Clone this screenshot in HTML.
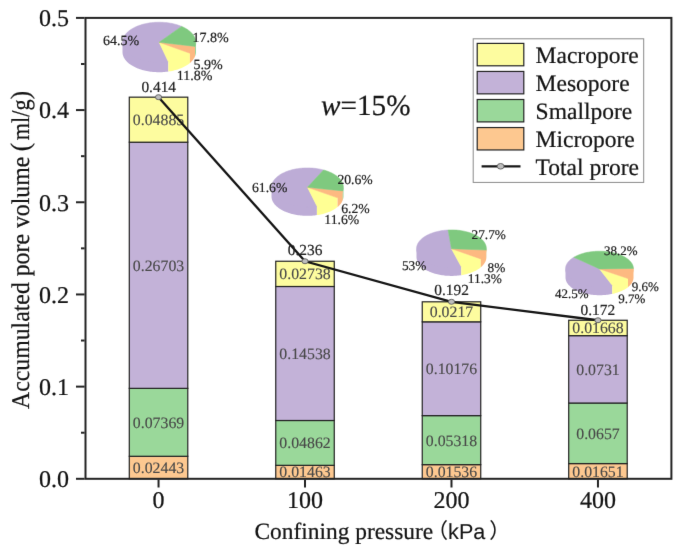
<!DOCTYPE html>
<html lang="en"><head><meta charset="utf-8"><title>Accumulated pore volume chart</title>
<style>html,body{margin:0;padding:0;background:#fff}svg{display:block}</style></head>
<body>
<svg width="685" height="548" viewBox="0 0 685 548" text-rendering="geometricPrecision" font-family='"Liberation Serif", serif'>
<rect width="685" height="548" fill="#fff"/>
<defs><filter id="soft" x="0" y="0" width="685" height="548" filterUnits="userSpaceOnUse" color-interpolation-filters="sRGB"><feConvolveMatrix order="3" kernelMatrix="0 1 0 1 12 1 0 1 0" edgeMode="duplicate" preserveAlpha="false"/></filter></defs>
<g filter="url(#soft)">
<rect width="685" height="548" fill="#fff"/>
<rect x="129.29" y="456.28" width="58.50" height="22.52" fill="#fdc890" stroke="#242424" stroke-width="1.2"/>
<rect x="129.29" y="388.35" width="58.50" height="67.93" fill="#9ad89a" stroke="#242424" stroke-width="1.2"/>
<rect x="129.29" y="142.20" width="58.50" height="246.15" fill="#c3b2d8" stroke="#242424" stroke-width="1.2"/>
<rect x="129.29" y="97.17" width="58.50" height="45.03" fill="#fdfc9f" stroke="#242424" stroke-width="1.2"/>
<text transform="translate(158.54 472.94)" font-size="15.8" fill="#484848" stroke="#484848" stroke-width="0.12" text-anchor="middle">0.02443</text>
<text transform="translate(158.54 427.72)" font-size="15.8" fill="#484848" stroke="#484848" stroke-width="0.12" text-anchor="middle">0.07369</text>
<text transform="translate(158.54 270.68)" font-size="15.8" fill="#484848" stroke="#484848" stroke-width="0.12" text-anchor="middle">0.26703</text>
<text transform="translate(158.54 125.09)" font-size="15.8" fill="#484848" stroke="#484848" stroke-width="0.12" text-anchor="middle">0.04885</text>
<rect x="275.76" y="465.31" width="58.50" height="13.49" fill="#fdc890" stroke="#242424" stroke-width="1.2"/>
<rect x="275.76" y="420.50" width="58.50" height="44.82" fill="#9ad89a" stroke="#242424" stroke-width="1.2"/>
<rect x="275.76" y="286.48" width="58.50" height="134.01" fill="#c3b2d8" stroke="#242424" stroke-width="1.2"/>
<rect x="275.76" y="261.25" width="58.50" height="25.24" fill="#fdfc9f" stroke="#242424" stroke-width="1.2"/>
<text transform="translate(305.01 477.46)" font-size="15.8" fill="#484848" stroke="#484848" stroke-width="0.12" text-anchor="middle">0.01463</text>
<text transform="translate(305.01 448.31)" font-size="15.8" fill="#484848" stroke="#484848" stroke-width="0.12" text-anchor="middle">0.04862</text>
<text transform="translate(305.01 358.89)" font-size="15.8" fill="#484848" stroke="#484848" stroke-width="0.12" text-anchor="middle">0.14538</text>
<text transform="translate(305.01 279.27)" font-size="15.8" fill="#484848" stroke="#484848" stroke-width="0.12" text-anchor="middle">0.02738</text>
<rect x="422.24" y="464.64" width="58.50" height="14.16" fill="#fdc890" stroke="#242424" stroke-width="1.2"/>
<rect x="422.24" y="415.62" width="58.50" height="49.02" fill="#9ad89a" stroke="#242424" stroke-width="1.2"/>
<rect x="422.24" y="321.82" width="58.50" height="93.80" fill="#c3b2d8" stroke="#242424" stroke-width="1.2"/>
<rect x="422.24" y="301.81" width="58.50" height="20.00" fill="#fdfc9f" stroke="#242424" stroke-width="1.2"/>
<text transform="translate(451.49 477.12)" font-size="15.8" fill="#484848" stroke="#484848" stroke-width="0.12" text-anchor="middle">0.01536</text>
<text transform="translate(451.49 445.53)" font-size="15.8" fill="#484848" stroke="#484848" stroke-width="0.12" text-anchor="middle">0.05318</text>
<text transform="translate(451.49 374.12)" font-size="15.8" fill="#484848" stroke="#484848" stroke-width="0.12" text-anchor="middle">0.10176</text>
<text transform="translate(451.49 317.22)" font-size="15.8" fill="#484848" stroke="#484848" stroke-width="0.12" text-anchor="middle">0.0217</text>
<rect x="568.71" y="463.58" width="58.50" height="15.22" fill="#fdc890" stroke="#242424" stroke-width="1.2"/>
<rect x="568.71" y="403.02" width="58.50" height="60.56" fill="#9ad89a" stroke="#242424" stroke-width="1.2"/>
<rect x="568.71" y="335.64" width="58.50" height="67.38" fill="#c3b2d8" stroke="#242424" stroke-width="1.2"/>
<rect x="568.71" y="320.26" width="58.50" height="15.38" fill="#fdfc9f" stroke="#242424" stroke-width="1.2"/>
<text transform="translate(597.96 476.59)" font-size="15.8" fill="#484848" stroke="#484848" stroke-width="0.12" text-anchor="middle">0.01651</text>
<text transform="translate(597.96 438.70)" font-size="15.8" fill="#484848" stroke="#484848" stroke-width="0.12" text-anchor="middle">0.0657</text>
<text transform="translate(597.96 374.73)" font-size="15.8" fill="#484848" stroke="#484848" stroke-width="0.12" text-anchor="middle">0.0731</text>
<text transform="translate(597.96 333.35)" font-size="15.8" fill="#484848" stroke="#484848" stroke-width="0.12" text-anchor="middle">0.01668</text>
<rect x="85.5" y="17.9" width="585.90" height="460.90" fill="none" stroke="#242424" stroke-width="2"/>
<line x1="76" y1="478.80" x2="84.6" y2="478.80" stroke="#242424" stroke-width="2"/>
<text transform="translate(69.00 487.10)" font-size="24" fill="#151515" stroke="#151515" stroke-width="0.22" text-anchor="end">0.0</text>
<line x1="81" y1="432.71" x2="84.6" y2="432.71" stroke="#242424" stroke-width="2"/>
<line x1="76" y1="386.62" x2="84.6" y2="386.62" stroke="#242424" stroke-width="2"/>
<text transform="translate(69.00 394.92)" font-size="24" fill="#151515" stroke="#151515" stroke-width="0.22" text-anchor="end">0.1</text>
<line x1="81" y1="340.53" x2="84.6" y2="340.53" stroke="#242424" stroke-width="2"/>
<line x1="76" y1="294.44" x2="84.6" y2="294.44" stroke="#242424" stroke-width="2"/>
<text transform="translate(69.00 302.74)" font-size="24" fill="#151515" stroke="#151515" stroke-width="0.22" text-anchor="end">0.2</text>
<line x1="81" y1="248.35" x2="84.6" y2="248.35" stroke="#242424" stroke-width="2"/>
<line x1="76" y1="202.26" x2="84.6" y2="202.26" stroke="#242424" stroke-width="2"/>
<text transform="translate(69.00 210.56)" font-size="24" fill="#151515" stroke="#151515" stroke-width="0.22" text-anchor="end">0.3</text>
<line x1="81" y1="156.17" x2="84.6" y2="156.17" stroke="#242424" stroke-width="2"/>
<line x1="76" y1="110.08" x2="84.6" y2="110.08" stroke="#242424" stroke-width="2"/>
<text transform="translate(69.00 118.38)" font-size="24" fill="#151515" stroke="#151515" stroke-width="0.22" text-anchor="end">0.4</text>
<line x1="81" y1="63.99" x2="84.6" y2="63.99" stroke="#242424" stroke-width="2"/>
<line x1="76" y1="17.90" x2="84.6" y2="17.90" stroke="#242424" stroke-width="2"/>
<text transform="translate(69.00 26.20)" font-size="24" fill="#151515" stroke="#151515" stroke-width="0.22" text-anchor="end">0.5</text>
<line x1="158.54" y1="479.7" x2="158.54" y2="487.5" stroke="#242424" stroke-width="2"/>
<text transform="translate(158.54 508.00)" font-size="24" fill="#151515" stroke="#151515" stroke-width="0.22" text-anchor="middle">0</text>
<line x1="305.01" y1="479.7" x2="305.01" y2="487.5" stroke="#242424" stroke-width="2"/>
<text transform="translate(305.01 508.00)" font-size="24" fill="#151515" stroke="#151515" stroke-width="0.22" text-anchor="middle">100</text>
<line x1="451.49" y1="479.7" x2="451.49" y2="487.5" stroke="#242424" stroke-width="2"/>
<text transform="translate(451.49 508.00)" font-size="24" fill="#151515" stroke="#151515" stroke-width="0.22" text-anchor="middle">200</text>
<line x1="597.96" y1="479.7" x2="597.96" y2="487.5" stroke="#242424" stroke-width="2"/>
<text transform="translate(597.96 508.00)" font-size="24" fill="#151515" stroke="#151515" stroke-width="0.22" text-anchor="middle">400</text>
<text transform="translate(254.5 539.1) scale(1 1.0)" font-size="23.4" fill="#151515" stroke="#151515" stroke-width="0.22"><tspan x="0" y="0">Confining pressure</tspan><tspan x="172.4" y="-1" font-size="21" stroke-width="0.1" font-family='"Liberation Sans", "Noto Sans CJK SC", sans-serif'>（</tspan><tspan x="193.6" y="-0.2" font-size="21.6" stroke-width="0.1" font-family='"Liberation Sans", "Noto Sans CJK SC", sans-serif'>kPa</tspan><tspan x="234.8" y="-1" font-size="21" stroke-width="0.1" font-family='"Liberation Sans", "Noto Sans CJK SC", sans-serif'>）</tspan></text>
<text transform="translate(29.30 408.90) rotate(-90) scale(1 1.07)" font-size="23.78" fill="#151515" stroke="#151515" stroke-width="0.22"><tspan x="0">Accumulated pore volume</tspan> <tspan x="257.6" font-size="25">(</tspan><tspan x="268.7" textLength="40.7" lengthAdjust="spacingAndGlyphs">ml/g</tspan><tspan x="309.6" font-size="25">)</tspan></text>
<text transform="translate(321.10 114.80)" font-size="29.2" fill="#151515" stroke="#151515" stroke-width="0.22"><tspan font-style="italic">w</tspan>=15%</text>
<polyline fill="none" stroke="#161616" stroke-width="2.3" points="158.54,97.17 305.01,261.26 451.49,301.81 597.96,320.25"/>
<ellipse cx="158.54" cy="97.17" rx="3.1" ry="2.5" fill="#bdbdbd" stroke="#5a5a5a" stroke-width="0.9"/>
<ellipse cx="305.01" cy="261.26" rx="3.1" ry="2.5" fill="#bdbdbd" stroke="#5a5a5a" stroke-width="0.9"/>
<ellipse cx="451.49" cy="301.81" rx="3.1" ry="2.5" fill="#bdbdbd" stroke="#5a5a5a" stroke-width="0.9"/>
<ellipse cx="597.96" cy="320.25" rx="3.1" ry="2.5" fill="#bdbdbd" stroke="#5a5a5a" stroke-width="0.9"/>
<text transform="translate(141.40 91.50)" font-size="15.4" fill="#222" stroke="#222" stroke-width="0.2">0.414</text>
<text transform="translate(287.70 255.10)" font-size="15.4" fill="#222" stroke="#222" stroke-width="0.2">0.236</text>
<text transform="translate(434.30 295.40)" font-size="15.4" fill="#222" stroke="#222" stroke-width="0.2">0.192</text>
<text transform="translate(580.50 314.80)" font-size="15.4" fill="#222" stroke="#222" stroke-width="0.2">0.172</text>
<g>
<path d="M122.50,40.80 L122.52,41.50 L122.59,42.21 L122.70,42.91 L122.86,43.61 L123.06,44.31 L123.31,45.00 L123.60,45.69 L123.93,46.37 L124.31,47.04 L124.73,47.71 L125.20,48.37 L125.70,49.01 L126.25,49.65 L126.83,50.28 L127.46,50.90 L128.12,51.50 L128.83,52.09 L129.57,52.67 L130.34,53.23 L131.16,53.77 L132.00,54.30 L132.88,54.82 L133.80,55.31 L134.74,55.79 L135.71,56.25 L136.72,56.70 L137.75,57.12 L138.80,57.52 L139.89,57.90 L140.99,58.26 L142.12,58.60 L143.27,58.91 L144.44,59.21 L145.62,59.48 L146.83,59.73 L148.04,59.95 L149.28,60.16 L150.52,60.33 L151.77,60.49 L153.04,60.62 L154.31,60.72 L155.59,60.80 L156.87,60.86 L158.15,60.89 L159.44,60.90 L160.72,60.88 L162.01,60.84 L163.29,60.77 L164.56,60.68 L165.83,60.56 L167.09,60.42 L168.34,60.26 L168.34,71.56 L167.09,71.72 L165.83,71.86 L164.56,71.98 L163.29,72.07 L162.01,72.14 L160.72,72.18 L159.44,72.20 L158.15,72.19 L156.87,72.16 L155.59,72.10 L154.31,72.02 L153.04,71.92 L151.77,71.79 L150.52,71.63 L149.28,71.46 L148.04,71.25 L146.83,71.03 L145.62,70.78 L144.44,70.51 L143.27,70.21 L142.12,69.90 L140.99,69.56 L139.89,69.20 L138.80,68.82 L137.75,68.42 L136.72,68.00 L135.71,67.55 L134.74,67.09 L133.80,66.61 L132.88,66.12 L132.00,65.60 L131.16,65.07 L130.34,64.53 L129.57,63.97 L128.83,63.39 L128.12,62.80 L127.46,62.20 L126.83,61.58 L126.25,60.95 L125.70,60.31 L125.20,59.67 L124.73,59.01 L124.31,58.34 L123.93,57.67 L123.60,56.99 L123.31,56.30 L123.06,55.61 L122.86,54.91 L122.70,54.21 L122.59,53.51 L122.52,52.80 L122.50,52.10Z" fill="#bdacd6"/>
<path d="M168.34,60.26 L169.59,60.07 L170.82,59.85 L172.04,59.62 L173.24,59.35 L174.43,59.07 L175.59,58.76 L176.74,58.43 L177.86,58.08 L178.96,57.71 L180.04,57.32 L181.09,56.90 L182.11,56.47 L183.11,56.01 L184.07,55.54 L185.00,55.05 L185.90,54.54 L186.77,54.01 L187.60,53.47 L188.40,52.91 L189.16,52.34 L189.89,51.75 L189.89,63.05 L189.16,63.64 L188.40,64.21 L187.60,64.77 L186.77,65.31 L185.90,65.84 L185.00,66.35 L184.07,66.84 L183.11,67.31 L182.11,67.77 L181.09,68.20 L180.04,68.62 L178.96,69.01 L177.86,69.38 L176.74,69.73 L175.59,70.06 L174.43,70.37 L173.24,70.65 L172.04,70.92 L170.82,71.15 L169.59,71.37 L168.34,71.56Z" fill="#ffff94"/>
<path d="M189.89,51.75 L190.61,51.11 L191.28,50.47 L191.91,49.81 L192.50,49.14 L193.04,48.45 L193.53,47.76 L193.98,47.06 L194.38,46.34 L194.73,45.62 L195.03,44.90 L195.03,56.20 L194.73,56.92 L194.38,57.64 L193.98,58.36 L193.53,59.06 L193.04,59.75 L192.50,60.44 L191.91,61.11 L191.28,61.77 L190.61,62.41 L189.89,63.05Z" fill="#fdb981"/>
<path d="M195.03,44.90 L195.31,44.09 L195.52,43.27 L195.68,42.45 L195.77,41.62 L195.80,40.80 L195.80,52.10 L195.77,52.92 L195.68,53.75 L195.52,54.57 L195.31,55.39 L195.03,56.20Z" fill="#7fc97f"/>
<path d="M159.15,42.30 L181.55,26.39 L180.53,25.97 L179.47,25.57 L178.39,25.19 L177.29,24.84 L176.17,24.50 L175.03,24.18 L173.86,23.89 L172.68,23.62 L171.48,23.37 L170.27,23.15 L169.04,22.95 L167.80,22.77 L166.56,22.61 L165.30,22.48 L164.03,22.38 L162.76,22.30 L161.48,22.24 L160.20,22.21 L158.92,22.20 L157.64,22.22 L156.37,22.26 L155.09,22.32 L153.82,22.41 L152.56,22.53 L151.30,22.67 L150.06,22.83 L148.82,23.01 L147.60,23.22 L146.39,23.46 L145.20,23.71 L144.03,23.99 L142.87,24.29 L141.73,24.62 L140.62,24.96 L139.52,25.33 L138.45,25.71 L137.41,26.12 L136.39,26.54 L135.40,26.99 L134.44,27.45 L133.51,27.94 L132.61,28.44 L131.75,28.95 L130.91,29.49 L130.11,30.04 L129.35,30.60 L128.62,31.18 L127.93,31.77 L127.28,32.37 L126.67,32.99 L126.10,33.62 L125.56,34.26 L125.07,34.90 L124.62,35.56 L124.21,36.23 L123.85,36.90 L123.52,37.58 L123.25,38.27 L123.01,38.96 L122.82,39.65 L122.67,40.35 L122.57,41.05 L122.51,41.75 L122.50,42.45 L122.53,43.15 L122.61,43.85 L122.73,44.55 L122.90,45.25 L123.11,45.94 L123.36,46.63 L123.66,47.31 L124.00,47.99 L124.38,48.66 L124.81,49.32 L125.28,49.98 L125.79,50.62 L126.34,51.25 L126.93,51.88 L127.56,52.49 L128.23,53.09 L128.93,53.67 L129.67,54.25 L130.45,54.80 L131.27,55.34 L132.11,55.87 L133.00,56.38 L133.91,56.87 L134.85,57.35 L135.82,57.80 L136.83,58.24 L137.86,58.66 L138.91,59.06 L139.99,59.43 L141.09,59.79 L142.22,60.13 L143.36,60.44 L144.53,60.73 L145.71,61.00 L146.91,61.25 L148.12,61.47 L149.35,61.67 L150.59,61.84 L151.84,62.00 L153.10,62.12 L154.37,62.23 L155.64,62.31 L156.92,62.36 L158.19,62.39 L159.47,62.40 L160.75,62.38 L162.03,62.34 L163.31,62.27 L164.58,62.18 L165.84,62.06 L167.09,61.92 L168.34,61.76Z" fill="#bdacd6" stroke="#bdacd6" stroke-width="0.5" stroke-linejoin="round"/>
<path d="M159.15,42.30 L168.34,61.76 L169.59,61.57 L170.82,61.35 L172.04,61.12 L173.24,60.85 L174.43,60.57 L175.59,60.26 L176.74,59.93 L177.86,59.58 L178.96,59.21 L180.04,58.82 L181.09,58.40 L182.11,57.97 L183.11,57.51 L184.07,57.04 L185.00,56.55 L185.90,56.04 L186.77,55.51 L187.60,54.97 L188.40,54.41 L189.16,53.84 L189.89,53.25Z" fill="#ffff94" stroke="#ffff94" stroke-width="0.5" stroke-linejoin="round"/>
<path d="M159.15,42.30 L189.89,53.25 L190.61,52.61 L191.28,51.97 L191.91,51.31 L192.50,50.64 L193.04,49.95 L193.53,49.26 L193.98,48.56 L194.38,47.84 L194.73,47.12 L195.03,46.40Z" fill="#fdb981" stroke="#fdb981" stroke-width="0.5" stroke-linejoin="round"/>
<path d="M159.15,42.30 L195.03,46.40 L195.27,45.71 L195.46,45.01 L195.62,44.31 L195.72,43.61 L195.78,42.91 L195.80,42.21 L195.77,41.51 L195.70,40.81 L195.58,40.11 L195.42,39.41 L195.21,38.72 L194.96,38.03 L194.67,37.34 L194.33,36.67 L193.95,36.00 L193.53,35.33 L193.06,34.68 L192.56,34.03 L192.01,33.40 L191.42,32.77 L190.80,32.16 L190.13,31.56 L189.43,30.97 L188.69,30.40 L187.91,29.84 L187.10,29.30 L186.25,28.77 L185.38,28.26 L184.47,27.77 L183.52,27.29 L182.55,26.83 L181.55,26.39Z" fill="#7fc97f" stroke="#7fc97f" stroke-width="0.5" stroke-linejoin="round"/>
</g>
<text transform="translate(103.10 45.00)" font-size="14" fill="#202020" stroke="#202020" stroke-width="0.2">64.5%</text>
<text transform="translate(192.40 42.20)" font-size="14" fill="#202020" stroke="#202020" stroke-width="0.2">17.8%</text>
<text transform="translate(193.50 69.10)" font-size="14" fill="#202020" stroke="#202020" stroke-width="0.2">5.9%</text>
<text transform="translate(176.70 79.60)" font-size="14" fill="#202020" stroke="#202020" stroke-width="0.2">11.8%</text>
<g>
<path d="M271.50,185.80 L271.52,186.49 L271.59,187.17 L271.70,187.85 L271.86,188.53 L272.06,189.21 L272.30,189.88 L272.59,190.55 L272.93,191.21 L273.30,191.86 L273.72,192.51 L274.18,193.15 L274.68,193.78 L275.22,194.40 L275.81,195.01 L276.43,195.60 L277.09,196.19 L277.79,196.76 L278.52,197.32 L279.30,197.86 L280.10,198.39 L280.95,198.91 L281.82,199.40 L282.73,199.88 L283.66,200.35 L284.63,200.79 L285.62,201.22 L286.65,201.62 L287.70,202.01 L288.77,202.38 L289.87,202.72 L290.98,203.05 L292.12,203.35 L293.28,203.63 L294.46,203.89 L295.65,204.12 L296.85,204.34 L298.07,204.53 L299.31,204.70 L300.55,204.84 L301.80,204.96 L303.05,205.05 L304.32,205.13 L305.58,205.17 L306.85,205.20 L308.12,205.20 L309.39,205.17 L310.66,205.12 L311.92,205.05 L313.18,204.95 L314.43,204.83 L315.67,204.69 L316.90,204.52 L316.90,215.12 L315.67,215.29 L314.43,215.43 L313.18,215.55 L311.92,215.65 L310.66,215.72 L309.39,215.77 L308.12,215.80 L306.85,215.80 L305.58,215.77 L304.32,215.73 L303.05,215.65 L301.80,215.56 L300.55,215.44 L299.31,215.30 L298.07,215.13 L296.85,214.94 L295.65,214.72 L294.46,214.49 L293.28,214.23 L292.12,213.95 L290.98,213.65 L289.87,213.32 L288.77,212.98 L287.70,212.61 L286.65,212.22 L285.62,211.82 L284.63,211.39 L283.66,210.95 L282.73,210.48 L281.82,210.00 L280.95,209.51 L280.10,208.99 L279.30,208.46 L278.52,207.92 L277.79,207.36 L277.09,206.79 L276.43,206.20 L275.81,205.61 L275.22,205.00 L274.68,204.38 L274.18,203.75 L273.72,203.11 L273.30,202.46 L272.93,201.81 L272.59,201.15 L272.30,200.48 L272.06,199.81 L271.86,199.13 L271.70,198.45 L271.59,197.77 L271.52,197.09 L271.50,196.40Z" fill="#bdacd6"/>
<path d="M316.90,204.52 L318.16,204.32 L319.40,204.10 L320.63,203.85 L321.84,203.58 L323.03,203.28 L324.20,202.97 L325.35,202.63 L326.47,202.26 L327.57,201.88 L328.64,201.47 L329.69,201.04 L330.70,200.60 L331.68,200.13 L332.64,199.64 L333.55,199.14 L334.44,198.62 L335.28,198.08 L336.09,197.52 L336.87,196.95 L337.60,196.37 L337.60,206.97 L336.87,207.55 L336.09,208.12 L335.28,208.68 L334.44,209.22 L333.55,209.74 L332.64,210.24 L331.68,210.73 L330.70,211.20 L329.69,211.64 L328.64,212.07 L327.57,212.48 L326.47,212.86 L325.35,213.23 L324.20,213.57 L323.03,213.88 L321.84,214.18 L320.63,214.45 L319.40,214.70 L318.16,214.92 L316.90,215.12Z" fill="#ffff94"/>
<path d="M337.60,196.37 L338.27,195.78 L338.91,195.19 L339.51,194.58 L340.06,193.96 L340.58,193.33 L341.05,192.70 L341.48,192.05 L341.87,191.40 L342.22,190.74 L342.52,190.07 L342.78,189.40 L342.78,200.00 L342.52,200.67 L342.22,201.34 L341.87,202.00 L341.48,202.65 L341.05,203.30 L340.58,203.93 L340.06,204.56 L339.51,205.18 L338.91,205.79 L338.27,206.38 L337.60,206.97Z" fill="#fdb981"/>
<path d="M342.78,189.40 L343.00,188.68 L343.18,187.97 L343.30,187.25 L343.38,186.52 L343.40,185.80 L343.40,196.40 L343.38,197.12 L343.30,197.85 L343.18,198.57 L343.00,199.28 L342.78,200.00Z" fill="#7fc97f"/>
<path d="M307.45,187.30 L323.50,169.94 L322.36,169.65 L321.20,169.38 L320.02,169.13 L318.83,168.90 L317.62,168.69 L316.40,168.51 L315.17,168.35 L313.93,168.22 L312.69,168.11 L311.43,168.02 L310.17,167.96 L308.91,167.92 L307.65,167.90 L306.38,167.91 L305.12,167.94 L303.86,168.00 L302.60,168.08 L301.35,168.18 L300.11,168.31 L298.87,168.46 L297.65,168.63 L296.44,168.83 L295.24,169.05 L294.06,169.30 L292.90,169.56 L291.75,169.85 L290.62,170.16 L289.51,170.49 L288.43,170.84 L287.37,171.21 L286.33,171.60 L285.32,172.01 L284.34,172.44 L283.38,172.89 L282.46,173.35 L281.57,173.84 L280.70,174.34 L279.88,174.85 L279.08,175.38 L278.32,175.93 L277.60,176.49 L276.91,177.06 L276.26,177.65 L275.65,178.25 L275.08,178.86 L274.55,179.48 L274.06,180.11 L273.62,180.74 L273.21,181.39 L272.84,182.04 L272.52,182.70 L272.25,183.37 L272.01,184.04 L271.82,184.72 L271.67,185.39 L271.57,186.07 L271.51,186.76 L271.50,187.44 L271.53,188.12 L271.61,188.80 L271.73,189.48 L271.89,190.16 L272.10,190.83 L272.35,191.50 L272.65,192.16 L272.99,192.82 L273.37,193.47 L273.79,194.12 L274.26,194.75 L274.76,195.38 L275.31,195.99 L275.90,196.60 L276.52,197.19 L277.19,197.77 L277.89,198.34 L278.62,198.89 L279.40,199.43 L280.21,199.96 L281.05,200.47 L281.92,200.96 L282.83,201.44 L283.77,201.90 L284.73,202.34 L285.73,202.76 L286.75,203.16 L287.79,203.54 L288.87,203.91 L289.96,204.25 L291.08,204.57 L292.21,204.87 L293.37,205.15 L294.54,205.41 L295.73,205.64 L296.93,205.85 L298.15,206.04 L299.37,206.20 L300.61,206.35 L301.86,206.46 L303.11,206.56 L304.37,206.63 L305.63,206.68 L306.89,206.70 L308.16,206.70 L309.42,206.67 L310.68,206.62 L311.94,206.55 L313.19,206.45 L314.44,206.33 L315.67,206.19 L316.90,206.02Z" fill="#bdacd6" stroke="#bdacd6" stroke-width="0.5" stroke-linejoin="round"/>
<path d="M307.45,187.30 L316.90,206.02 L318.16,205.82 L319.40,205.60 L320.63,205.35 L321.84,205.08 L323.03,204.78 L324.20,204.47 L325.35,204.13 L326.47,203.76 L327.57,203.38 L328.64,202.97 L329.69,202.54 L330.70,202.10 L331.68,201.63 L332.64,201.14 L333.55,200.64 L334.44,200.12 L335.28,199.58 L336.09,199.02 L336.87,198.45 L337.60,197.87Z" fill="#ffff94" stroke="#ffff94" stroke-width="0.5" stroke-linejoin="round"/>
<path d="M307.45,187.30 L337.60,197.87 L338.27,197.28 L338.91,196.69 L339.51,196.08 L340.06,195.46 L340.58,194.83 L341.05,194.20 L341.48,193.55 L341.87,192.90 L342.22,192.24 L342.52,191.57 L342.78,190.90Z" fill="#fdb981" stroke="#fdb981" stroke-width="0.5" stroke-linejoin="round"/>
<path d="M307.45,187.30 L342.78,190.90 L342.99,190.23 L343.16,189.55 L343.28,188.88 L343.36,188.20 L343.40,187.52 L343.39,186.84 L343.34,186.17 L343.24,185.49 L343.10,184.82 L342.92,184.14 L342.69,183.48 L342.43,182.81 L342.11,182.16 L341.76,181.50 L341.36,180.86 L340.92,180.22 L340.44,179.60 L339.93,178.98 L339.37,178.37 L338.77,177.77 L338.13,177.19 L337.46,176.62 L336.75,176.06 L336.00,175.51 L335.22,174.98 L334.40,174.46 L333.55,173.96 L332.67,173.48 L331.76,173.01 L330.82,172.56 L329.85,172.13 L328.85,171.71 L327.83,171.32 L326.78,170.94 L325.71,170.59 L324.62,170.25 L323.50,169.94Z" fill="#7fc97f" stroke="#7fc97f" stroke-width="0.5" stroke-linejoin="round"/>
</g>
<text transform="translate(252.00 192.00)" font-size="13.7" fill="#202020" stroke="#202020" stroke-width="0.2">61.6%</text>
<text transform="translate(337.40 183.90)" font-size="13.7" fill="#202020" stroke="#202020" stroke-width="0.2">20.6%</text>
<text transform="translate(341.20 212.80)" font-size="13.7" fill="#202020" stroke="#202020" stroke-width="0.2">6.2%</text>
<text transform="translate(324.30 223.80)" font-size="13.7" fill="#202020" stroke="#202020" stroke-width="0.2">11.6%</text>
<g>
<path d="M416.50,247.20 L416.52,247.86 L416.59,248.52 L416.69,249.17 L416.84,249.82 L417.03,250.47 L417.27,251.12 L417.54,251.76 L417.86,252.40 L418.22,253.03 L418.62,253.65 L419.06,254.26 L419.54,254.87 L420.06,255.46 L420.62,256.05 L421.21,256.63 L421.84,257.19 L422.51,257.74 L423.21,258.28 L423.95,258.80 L424.72,259.31 L425.53,259.81 L426.37,260.29 L427.23,260.76 L428.13,261.20 L429.06,261.63 L430.01,262.05 L430.99,262.44 L431.99,262.82 L433.02,263.17 L434.07,263.51 L435.14,263.83 L436.23,264.13 L437.35,264.40 L438.47,264.66 L439.62,264.89 L440.78,265.10 L441.95,265.29 L443.13,265.46 L444.32,265.61 L445.53,265.73 L446.74,265.83 L447.95,265.91 L449.17,265.96 L450.39,265.99 L451.62,266.00 L452.84,265.99 L454.06,265.95 L455.28,265.89 L456.49,265.80 L457.70,265.70 L458.90,265.57 L460.09,265.42 L461.27,265.24 L461.27,275.14 L460.09,275.32 L458.90,275.47 L457.70,275.60 L456.49,275.70 L455.28,275.79 L454.06,275.85 L452.84,275.89 L451.62,275.90 L450.39,275.89 L449.17,275.86 L447.95,275.81 L446.74,275.73 L445.53,275.63 L444.32,275.51 L443.13,275.36 L441.95,275.19 L440.78,275.00 L439.62,274.79 L438.47,274.56 L437.35,274.30 L436.23,274.03 L435.14,273.73 L434.07,273.41 L433.02,273.07 L431.99,272.72 L430.99,272.34 L430.01,271.95 L429.06,271.53 L428.13,271.10 L427.23,270.66 L426.37,270.19 L425.53,269.71 L424.72,269.21 L423.95,268.70 L423.21,268.18 L422.51,267.64 L421.84,267.09 L421.21,266.53 L420.62,265.95 L420.06,265.36 L419.54,264.77 L419.06,264.16 L418.62,263.55 L418.22,262.93 L417.86,262.30 L417.54,261.66 L417.27,261.02 L417.03,260.37 L416.84,259.72 L416.69,259.07 L416.59,258.42 L416.52,257.76 L416.50,257.10Z" fill="#bdacd6"/>
<path d="M461.27,265.24 L462.46,265.04 L463.63,264.82 L464.78,264.58 L465.92,264.31 L467.04,264.03 L468.14,263.72 L469.22,263.39 L470.28,263.04 L471.31,262.67 L472.32,262.28 L473.30,261.87 L474.25,261.45 L475.18,261.00 L476.08,260.54 L476.94,260.06 L477.77,259.57 L478.57,259.06 L479.34,258.53 L480.07,257.99 L480.76,257.44 L480.76,267.34 L480.07,267.89 L479.34,268.43 L478.57,268.96 L477.77,269.47 L476.94,269.96 L476.08,270.44 L475.18,270.90 L474.25,271.35 L473.30,271.77 L472.32,272.18 L471.31,272.57 L470.28,272.94 L469.22,273.29 L468.14,273.62 L467.04,273.93 L465.92,274.21 L464.78,274.48 L463.63,274.72 L462.46,274.94 L461.27,275.14Z" fill="#ffff94"/>
<path d="M480.76,257.44 L481.43,256.87 L482.05,256.28 L482.64,255.68 L483.18,255.08 L483.69,254.46 L484.15,253.83 L484.57,253.20 L484.95,252.55 L485.29,251.90 L485.58,251.25 L485.83,250.58 L486.03,249.92 L486.19,249.25 L486.31,248.58 L486.31,258.48 L486.19,259.15 L486.03,259.82 L485.83,260.48 L485.58,261.15 L485.29,261.80 L484.95,262.45 L484.57,263.10 L484.15,263.73 L483.69,264.36 L483.18,264.98 L482.64,265.58 L482.05,266.18 L481.43,266.77 L480.76,267.34Z" fill="#fdb981"/>
<path d="M486.31,248.58 L486.38,247.89 L486.40,247.20 L486.40,257.10 L486.38,257.79 L486.31,258.48Z" fill="#7fc97f"/>
<path d="M451.45,248.70 L448.09,229.99 L446.87,230.06 L445.66,230.16 L444.46,230.28 L443.26,230.42 L442.07,230.59 L440.90,230.78 L439.74,230.99 L438.59,231.22 L437.46,231.47 L436.35,231.75 L435.25,232.04 L434.18,232.36 L433.12,232.69 L432.09,233.05 L431.08,233.42 L430.10,233.82 L429.14,234.23 L428.21,234.66 L427.31,235.10 L426.44,235.57 L425.60,236.05 L424.79,236.54 L424.02,237.05 L423.27,237.58 L422.57,238.11 L421.90,238.66 L421.26,239.23 L420.66,239.80 L420.10,240.39 L419.58,240.99 L419.10,241.59 L418.65,242.21 L418.25,242.83 L417.89,243.46 L417.57,244.09 L417.29,244.73 L417.05,245.38 L416.85,246.03 L416.70,246.69 L416.59,247.34 L416.52,248.00 L416.50,248.66 L416.52,249.32 L416.58,249.98 L416.69,250.63 L416.83,251.29 L417.02,251.94 L417.25,252.58 L417.53,253.23 L417.84,253.86 L418.20,254.49 L418.60,255.12 L419.04,255.73 L419.52,256.34 L420.03,256.94 L420.59,257.52 L421.18,258.10 L421.81,258.66 L422.48,259.22 L423.18,259.76 L423.92,260.28 L424.69,260.79 L425.50,261.29 L426.33,261.77 L427.20,262.24 L428.10,262.69 L429.02,263.12 L429.98,263.53 L430.96,263.93 L431.96,264.31 L432.99,264.66 L434.04,265.00 L435.11,265.32 L436.21,265.62 L437.32,265.89 L438.45,266.15 L439.59,266.39 L440.75,266.60 L441.93,266.79 L443.11,266.96 L444.30,267.10 L445.51,267.23 L446.72,267.33 L447.93,267.40 L449.16,267.46 L450.38,267.49 L451.60,267.50 L452.83,267.49 L454.05,267.45 L455.27,267.39 L456.49,267.30 L457.70,267.20 L458.90,267.07 L460.09,266.92 L461.27,266.74Z" fill="#bdacd6" stroke="#bdacd6" stroke-width="0.5" stroke-linejoin="round"/>
<path d="M451.45,248.70 L461.27,266.74 L462.46,266.54 L463.63,266.32 L464.78,266.08 L465.92,265.81 L467.04,265.53 L468.14,265.22 L469.22,264.89 L470.28,264.54 L471.31,264.17 L472.32,263.78 L473.30,263.37 L474.25,262.95 L475.18,262.50 L476.08,262.04 L476.94,261.56 L477.77,261.07 L478.57,260.56 L479.34,260.03 L480.07,259.49 L480.76,258.94Z" fill="#ffff94" stroke="#ffff94" stroke-width="0.5" stroke-linejoin="round"/>
<path d="M451.45,248.70 L480.76,258.94 L481.43,258.37 L482.05,257.78 L482.64,257.18 L483.18,256.58 L483.69,255.96 L484.15,255.33 L484.57,254.70 L484.95,254.05 L485.29,253.40 L485.58,252.75 L485.83,252.08 L486.03,251.42 L486.19,250.75 L486.31,250.08Z" fill="#fdb981" stroke="#fdb981" stroke-width="0.5" stroke-linejoin="round"/>
<path d="M451.45,248.70 L486.31,250.08 L486.38,249.41 L486.40,248.74 L486.38,248.07 L486.32,247.41 L486.21,246.74 L486.06,246.08 L485.86,245.42 L485.63,244.77 L485.34,244.11 L485.02,243.47 L484.65,242.83 L484.25,242.20 L483.80,241.58 L483.31,240.97 L482.78,240.36 L482.20,239.77 L481.60,239.19 L480.95,238.62 L480.26,238.06 L479.54,237.52 L478.79,236.99 L478.00,236.47 L477.17,235.97 L476.32,235.49 L475.43,235.02 L474.51,234.57 L473.56,234.14 L472.59,233.73 L471.59,233.33 L470.56,232.96 L469.51,232.60 L468.44,232.27 L467.34,231.96 L466.22,231.66 L465.09,231.39 L463.94,231.14 L462.77,230.91 L461.59,230.71 L460.40,230.53 L459.19,230.37 L457.98,230.23 L456.75,230.12 L455.52,230.03 L454.29,229.96 L453.05,229.92 L451.81,229.90 L450.57,229.91 L449.33,229.93 L448.09,229.99Z" fill="#7fc97f" stroke="#7fc97f" stroke-width="0.5" stroke-linejoin="round"/>
</g>
<text transform="translate(471.50 239.10)" font-size="13.35" fill="#202020" stroke="#202020" stroke-width="0.2">27.7%</text>
<text transform="translate(401.90 269.60)" font-size="13.35" fill="#202020" stroke="#202020" stroke-width="0.2">53%</text>
<text transform="translate(487.50 272.40)" font-size="13.35" fill="#202020" stroke="#202020" stroke-width="0.2">8%</text>
<text transform="translate(467.80 283.40)" font-size="13.35" fill="#202020" stroke="#202020" stroke-width="0.2">11.3%</text>
<g>
<path d="M565.50,267.40 L565.52,268.02 L565.58,268.64 L565.69,269.25 L565.83,269.87 L566.02,270.48 L566.24,271.08 L566.51,271.69 L566.82,272.28 L567.17,272.87 L567.55,273.46 L567.98,274.04 L568.44,274.60 L568.95,275.16 L569.49,275.72 L570.06,276.26 L570.67,276.79 L571.32,277.30 L572.00,277.81 L572.72,278.30 L573.47,278.78 L574.24,279.25 L575.06,279.70 L575.90,280.14 L576.76,280.56 L577.66,280.97 L578.58,281.35 L579.53,281.73 L580.51,282.08 L581.50,282.42 L582.52,282.74 L583.56,283.03 L584.62,283.31 L585.70,283.58 L586.79,283.82 L587.90,284.04 L589.02,284.24 L590.16,284.42 L591.31,284.58 L592.46,284.72 L593.63,284.83 L594.80,284.93 L595.98,285.00 L597.16,285.06 L598.35,285.09 L599.54,285.10 L600.73,285.09 L601.91,285.06 L603.09,285.00 L604.27,284.92 L605.45,284.83 L606.61,284.71 L607.77,284.57 L608.91,284.41 L610.05,284.23 L611.17,284.02 L612.28,283.80 L612.28,293.90 L611.17,294.12 L610.05,294.33 L608.91,294.51 L607.77,294.67 L606.61,294.81 L605.45,294.93 L604.27,295.02 L603.09,295.10 L601.91,295.16 L600.73,295.19 L599.54,295.20 L598.35,295.19 L597.16,295.16 L595.98,295.10 L594.80,295.03 L593.63,294.93 L592.46,294.82 L591.31,294.68 L590.16,294.52 L589.02,294.34 L587.90,294.14 L586.79,293.92 L585.70,293.68 L584.62,293.41 L583.56,293.13 L582.52,292.84 L581.50,292.52 L580.51,292.18 L579.53,291.83 L578.58,291.45 L577.66,291.07 L576.76,290.66 L575.90,290.24 L575.06,289.80 L574.24,289.35 L573.47,288.88 L572.72,288.40 L572.00,287.91 L571.32,287.40 L570.67,286.89 L570.06,286.36 L569.49,285.82 L568.95,285.26 L568.44,284.70 L567.98,284.14 L567.55,283.56 L567.17,282.97 L566.82,282.38 L566.51,281.79 L566.24,281.18 L566.02,280.58 L565.83,279.97 L565.69,279.35 L565.58,278.74 L565.52,278.12 L565.50,277.50Z" fill="#bdacd6"/>
<path d="M612.28,283.80 L613.40,283.55 L614.50,283.28 L615.59,282.99 L616.65,282.68 L617.69,282.35 L618.71,282.00 L619.70,281.64 L620.67,281.25 L621.61,280.85 L622.52,280.42 L623.40,279.99 L624.26,279.53 L625.08,279.06 L625.86,278.58 L626.61,278.08 L627.33,277.57 L628.01,277.04 L628.01,287.14 L627.33,287.67 L626.61,288.18 L625.86,288.68 L625.08,289.16 L624.26,289.63 L623.40,290.09 L622.52,290.52 L621.61,290.95 L620.67,291.35 L619.70,291.74 L618.71,292.10 L617.69,292.45 L616.65,292.78 L615.59,293.09 L614.50,293.38 L613.40,293.65 L612.28,293.90Z" fill="#ffff94"/>
<path d="M628.01,277.04 L628.66,276.50 L629.27,275.95 L629.84,275.38 L630.38,274.81 L630.87,274.23 L631.32,273.63 L631.73,273.03 L632.10,272.43 L632.43,271.81 L632.71,271.19 L632.95,270.57 L633.15,269.94 L633.30,269.31 L633.41,268.67 L633.48,268.04 L633.50,267.40 L633.50,277.50 L633.48,278.14 L633.41,278.77 L633.30,279.41 L633.15,280.04 L632.95,280.67 L632.71,281.29 L632.43,281.91 L632.10,282.53 L631.73,283.13 L631.32,283.73 L630.87,284.33 L630.38,284.91 L629.84,285.48 L629.27,286.05 L628.66,286.60 L628.01,287.14Z" fill="#fdb981"/>
<path d="M599.50,268.90 L573.81,257.31 L573.04,257.78 L572.31,258.27 L571.61,258.78 L570.94,259.29 L570.31,259.82 L569.72,260.36 L569.16,260.91 L568.64,261.47 L568.16,262.04 L567.71,262.62 L567.31,263.20 L566.94,263.80 L566.62,264.39 L566.34,265.00 L566.09,265.61 L565.89,266.22 L565.73,266.84 L565.61,267.45 L565.54,268.08 L565.50,268.70 L565.51,269.32 L565.56,269.94 L565.65,270.56 L565.78,271.18 L565.96,271.79 L566.17,272.41 L566.43,273.01 L566.73,273.61 L567.07,274.21 L567.45,274.80 L567.86,275.38 L568.32,275.96 L568.82,276.52 L569.35,277.08 L569.92,277.63 L570.53,278.16 L571.17,278.69 L571.85,279.20 L572.56,279.70 L573.30,280.18 L574.08,280.66 L574.89,281.11 L575.73,281.56 L576.60,281.98 L577.50,282.39 L578.42,282.79 L579.37,283.16 L580.35,283.52 L581.34,283.87 L582.37,284.19 L583.41,284.49 L584.47,284.78 L585.55,285.04 L586.65,285.29 L587.76,285.51 L588.89,285.72 L590.03,285.90 L591.18,286.06 L592.35,286.20 L593.52,286.32 L594.70,286.42 L595.88,286.50 L597.07,286.55 L598.27,286.59 L599.46,286.60 L600.66,286.59 L601.85,286.56 L603.04,286.50 L604.22,286.43 L605.40,286.33 L606.58,286.21 L607.74,286.07 L608.89,285.91 L610.04,285.73 L611.17,285.53 L612.28,285.30Z" fill="#bdacd6" stroke="#bdacd6" stroke-width="0.5" stroke-linejoin="round"/>
<path d="M599.50,268.90 L612.28,285.30 L613.40,285.05 L614.50,284.78 L615.59,284.49 L616.65,284.18 L617.69,283.85 L618.71,283.50 L619.70,283.14 L620.67,282.75 L621.61,282.35 L622.52,281.92 L623.40,281.49 L624.26,281.03 L625.08,280.56 L625.86,280.08 L626.61,279.58 L627.33,279.07 L628.01,278.54Z" fill="#ffff94" stroke="#ffff94" stroke-width="0.5" stroke-linejoin="round"/>
<path d="M599.50,268.90 L628.01,278.54 L628.65,278.01 L629.26,277.46 L629.82,276.91 L630.35,276.34 L630.84,275.77 L631.28,275.19 L631.69,274.60 L632.06,274.00 L632.39,273.39 L632.67,272.78 L632.92,272.17 L633.12,271.55 L633.28,270.93 L633.39,270.30 L633.47,269.67 L633.50,269.05 L633.49,268.42Z" fill="#fdb981" stroke="#fdb981" stroke-width="0.5" stroke-linejoin="round"/>
<path d="M599.50,268.90 L633.49,268.42 L633.43,267.79 L633.34,267.17 L633.20,266.55 L633.02,265.93 L632.80,265.32 L632.53,264.71 L632.23,264.11 L631.88,263.51 L631.50,262.92 L631.07,262.33 L630.61,261.76 L630.10,261.19 L629.56,260.63 L628.98,260.08 L628.37,259.55 L627.71,259.02 L627.03,258.51 L626.31,258.01 L625.55,257.53 L624.76,257.05 L623.95,256.60 L623.10,256.16 L622.22,255.73 L621.31,255.32 L620.38,254.93 L619.42,254.55 L618.43,254.20 L617.42,253.86 L616.39,253.54 L615.34,253.24 L614.27,252.96 L613.18,252.70 L612.07,252.45 L610.95,252.23 L609.81,252.03 L608.66,251.85 L607.50,251.70 L606.33,251.56 L605.15,251.45 L603.96,251.35 L602.77,251.28 L601.58,251.23 L600.38,251.21 L599.18,251.20 L597.98,251.22 L596.78,251.26 L595.59,251.32 L594.40,251.40 L593.21,251.51 L592.04,251.63 L590.87,251.78 L589.72,251.95 L588.57,252.14 L587.44,252.35 L586.33,252.58 L585.23,252.83 L584.15,253.11 L583.09,253.40 L582.05,253.71 L581.03,254.04 L580.04,254.39 L579.06,254.75 L578.12,255.14 L577.20,255.54 L576.31,255.96 L575.44,256.39 L574.61,256.84 L573.81,257.31Z" fill="#7fc97f" stroke="#7fc97f" stroke-width="0.5" stroke-linejoin="round"/>
</g>
<text transform="translate(604.00 255.00)" font-size="13.0" fill="#202020" stroke="#202020" stroke-width="0.2">38.2%</text>
<text transform="translate(555.10 297.70)" font-size="13.0" fill="#202020" stroke="#202020" stroke-width="0.2">42.5%</text>
<text transform="translate(631.80 291.10)" font-size="13.0" fill="#202020" stroke="#202020" stroke-width="0.2">9.6%</text>
<text transform="translate(618.20 302.70)" font-size="13.0" fill="#202020" stroke="#202020" stroke-width="0.2">9.7%</text>
<rect x="473.2" y="38.8" width="170.5" height="143.6" fill="#fff" stroke="#8a8a8a" stroke-width="1"/>
<rect x="477.2" y="43.40" width="46.6" height="22.4" fill="#fdfc9f" stroke="#242424" stroke-width="1.2"/>
<text transform="translate(535.60 62.70)" font-size="23.5" fill="#151515" stroke="#151515" stroke-width="0.22">Macropore</text>
<rect x="477.2" y="71.45" width="46.6" height="22.4" fill="#c3b2d8" stroke="#242424" stroke-width="1.2"/>
<text transform="translate(535.60 90.75)" font-size="23.5" fill="#151515" stroke="#151515" stroke-width="0.22">Mesopore</text>
<rect x="477.2" y="99.50" width="46.6" height="22.4" fill="#9ad89a" stroke="#242424" stroke-width="1.2"/>
<text transform="translate(535.60 118.80)" font-size="23.5" fill="#151515" stroke="#151515" stroke-width="0.22">Smallpore</text>
<rect x="477.2" y="127.55" width="46.6" height="22.4" fill="#fdc890" stroke="#242424" stroke-width="1.2"/>
<text transform="translate(535.60 146.85)" font-size="23.5" fill="#151515" stroke="#151515" stroke-width="0.22">Micropore</text>
<line x1="481.6" y1="166.3" x2="520.5" y2="166.3" stroke="#161616" stroke-width="2.2"/>
<ellipse cx="500.6" cy="166.3" rx="3.4" ry="2.8" fill="#bdbdbd" stroke="#5a5a5a" stroke-width="0.9"/>
<text transform="translate(535.60 174.80)" font-size="23.5" fill="#151515" stroke="#151515" stroke-width="0.22">Total prore</text>
</g>
</svg>
</body></html>
